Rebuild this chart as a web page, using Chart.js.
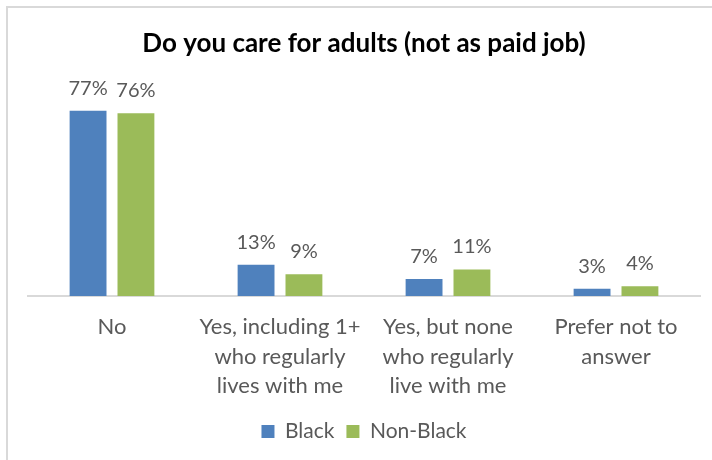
<!DOCTYPE html>
<html>
<head>
<meta charset="utf-8">
<script src="https://cdn.jsdelivr.net/npm/chart.js@4"></script>
<style>
  html, body { margin: 0; padding: 0; background: #fff; }
  #wrap { position: relative; width: 712px; height: 460px; }
  #frame { position: absolute; left: 6px; top: 6px; right: -10px; bottom: -10px;
           border-left: 2px solid #d9d9d9; border-top: 2px solid #d9d9d9; }
  canvas { position: absolute; left: 0; top: 0; }
</style>
</head>
<body>
<div id="wrap">
  <div id="frame"></div>
  <canvas id="careChart" width="712" height="458"></canvas>
</div>
<script>
// answer categories (multi-line labels)
const categories = [
  ["No"],
  ["Yes, including 1+", "who regularly", "lives with me"],
  ["Yes, but none", "who regularly", "live with me"],
  ["Prefer not to", "answer"],
];

// percentages per group
const blackValues = [77, 13, 7, 3];
const nonBlackValues = [76, 9, 11, 4];

// draw the % labels above each bar
const barLabels = {
  id: "barLabels",
  afterDatasetsDraw(chart) {
    const ctx = chart.ctx;
    ctx.save();
    ctx.font = "20px Lato";
    ctx.fillStyle = "#595959";
    ctx.textAlign = "center";
    ctx.textBaseline = "alphabetic";
    chart.data.datasets.forEach((ds, i) => {
      chart.getDatasetMeta(i).data.forEach((bar, j) => {
        ctx.fillText(ds.data[j] + "%", bar.x, bar.y - 16);
      });
    });
    ctx.restore();
  },
};

new Chart(document.getElementById("careChart").getContext("2d"), {
  type: "bar",
  data: {
    labels: categories,
    datasets: [
      {
        label: "Black",
        data: blackValues,
        backgroundColor: "#4f81bd",
        barPercentage: 0.77,
        categoryPercentage: 0.57,
      },
      {
        label: "Non-Black",
        data: nonBlackValues,
        backgroundColor: "#9bbb59",
        barPercentage: 0.77,
        categoryPercentage: 0.57,
      },
    ],
  },
  plugins: [barLabels],
  options: {
    responsive: false,
    animation: false,
    layout: { padding: { left: 28, right: 12, top: 14, bottom: 6 } },
    plugins: {
      title: {
        display: true,
        text: "Do you care for adults (not as paid job)",
        color: "#000",
        font: { family: "Lato", size: 26, weight: "bold" },
        padding: { top: 14, bottom: 18 },
      },
      legend: {
        position: "bottom",
        labels: {
          color: "#595959",
          font: { family: "Lato", size: 21 },
          boxWidth: 13,
          boxHeight: 13,
          padding: 12,
        },
      },
      tooltip: { enabled: false },
    },
    scales: {
      x: {
        grid: { display: false },
        border: { color: "#d9d9d9", width: 2 },
        ticks: {
          color: "#595959",
          font: { family: "Lato", size: 22, lineHeight: 1.35 },
          padding: 8,
          maxRotation: 0,
          autoSkip: false,
        },
      },
      y: {
        display: false,
        min: 0,
        max: 91,
      },
    },
  },
});
</script>
</body>
</html>
